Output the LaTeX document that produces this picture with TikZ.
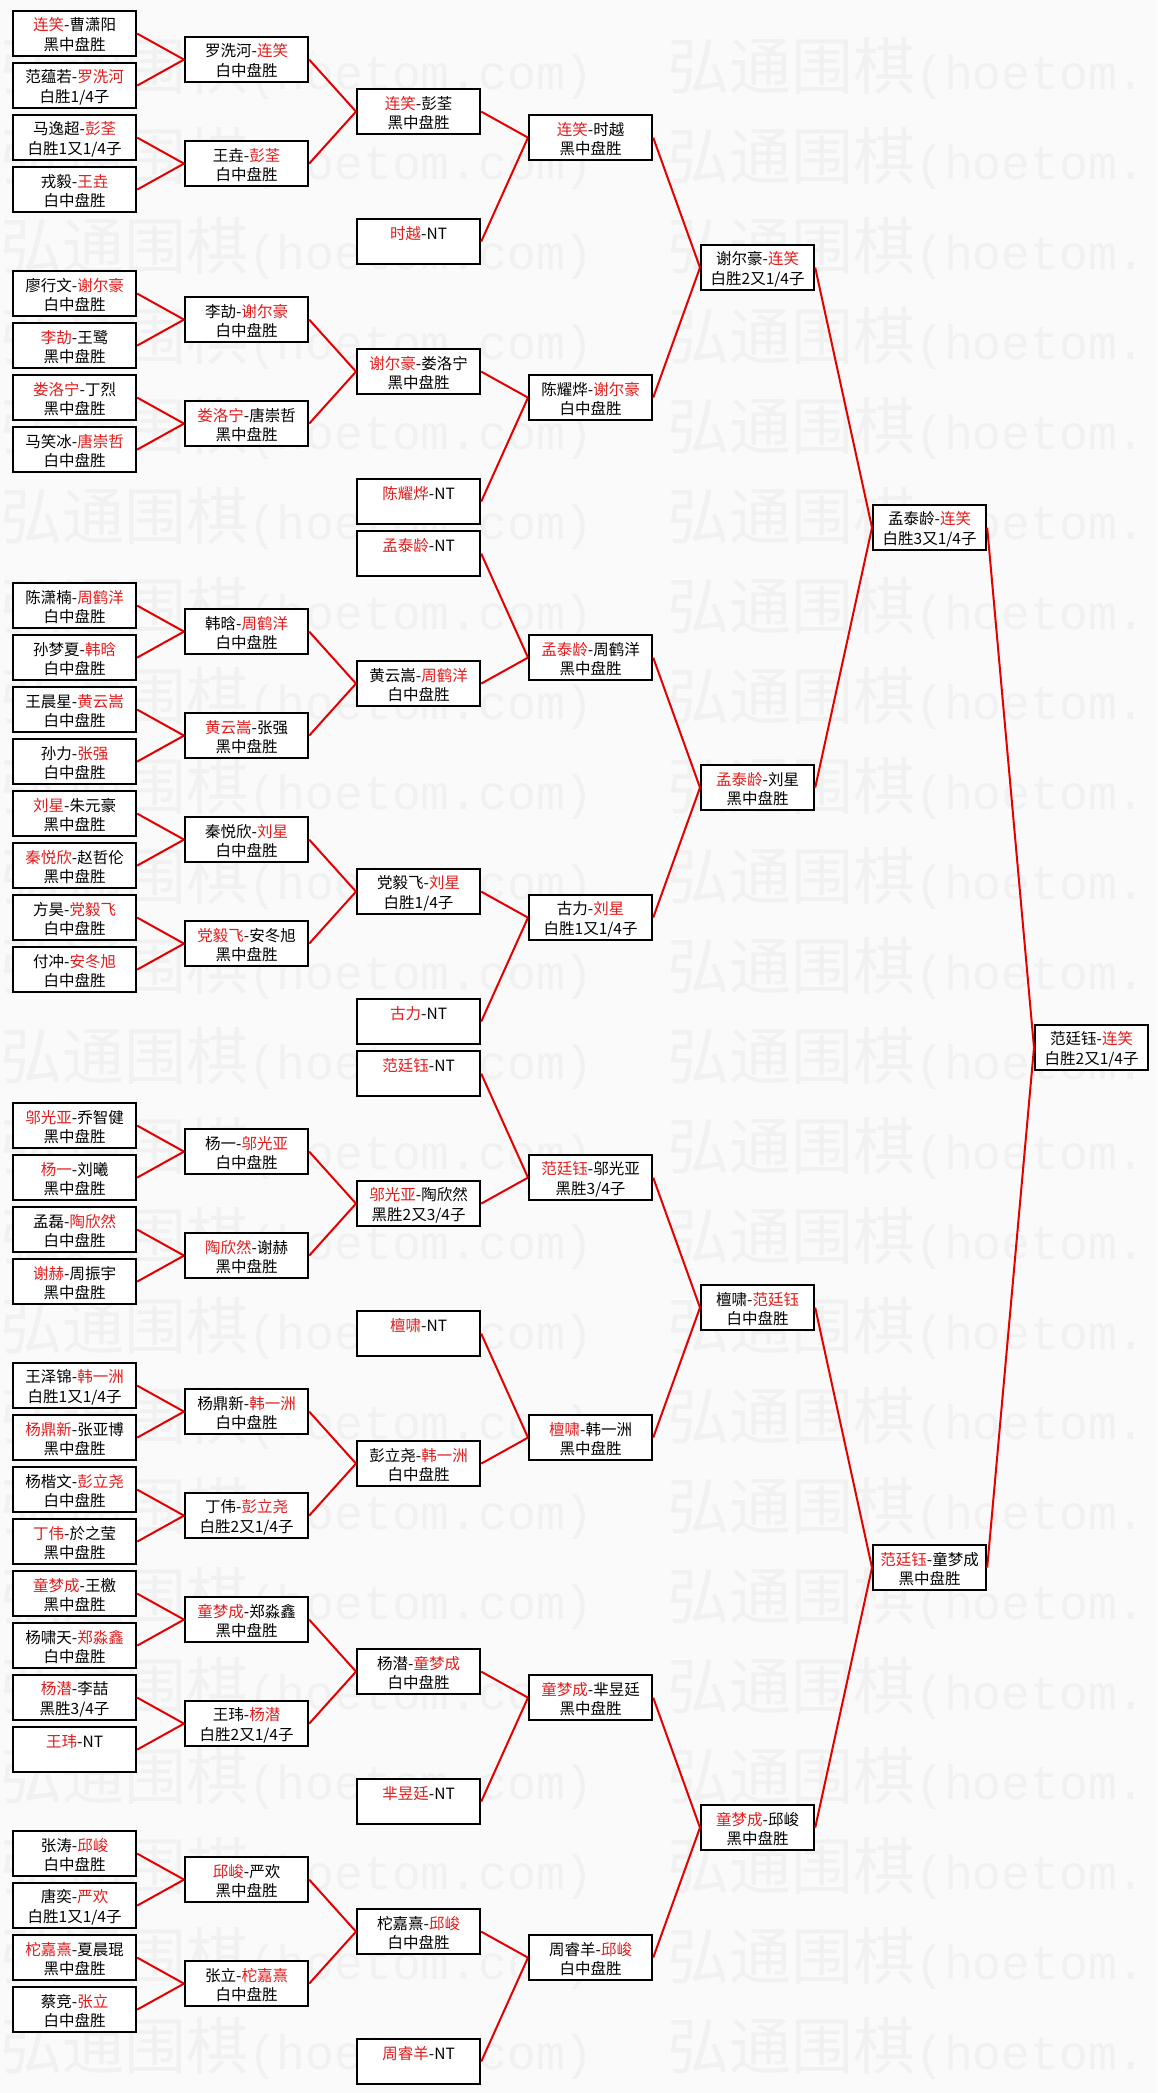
\documentclass[tikz,border=0pt]{standalone}
\usepackage{fontspec}
\setmainfont{Noto Sans CJK SC}
\newfontfamily\wmlatin{Liberation Mono}
\definecolor{winred}{RGB}{226,28,28}
\definecolor{linkred}{RGB}{228,0,0}
\definecolor{pagebg}{RGB}{250,250,250}
\definecolor{wmgray}{RGB}{241,241,241}
\newcommand\wn[1]{\textcolor{winred}{#1}}
\newcommand\rowstrut{\rule[-2.5pt]{0pt}{19.3pt}}
\newcommand\gm[2]{\rowstrut#1\\\rowstrut#2}
\newcommand\wmtext[1]{{\fontsize{62pt}{62pt}\selectfont 弘通围棋}{\wmlatin\fontsize{48pt}{48pt}\selectfont #1}}
\tikzset{
  game/.style={draw=black, line width=2.2pt, fill=white, anchor=north west,
    inner sep=0pt, minimum height=45pt, text width=123pt, align=center,
    font={\fontsize{15.5pt}{19.5pt}\selectfont}},
  narrow/.style={text width=113pt},
  link/.style={draw=linkred, line width=2pt},
  wmk/.style={anchor=west, inner sep=0pt, text=wmgray}
}
\begin{document}
\begin{tikzpicture}[x=1pt,y=-52pt]
  \fill[pagebg] (0pt,10pt) rectangle (1157pt,-2083pt);
  \useasboundingbox (0pt,10pt) rectangle (1157pt,-2083pt);
  \foreach \k in {0,...,22}{
    \node[wmk] (wl\k) at (0pt,{-58pt-90pt*\k}) {\wmtext{(hoetom.com)}};
    \node[wmk] (wr\k) at (667pt,{-58pt-90pt*\k}) {\wmtext{(hoetom.}};
  }

  \node[game] (a0) at (12,0) {\gm{\wn{连笑}-曹潇阳}{黑中盘胜}};
  \node[game] (a1) at (12,1) {\gm{范蕴若-\wn{罗洗河}}{白胜1/4子}};
  \node[game] (a2) at (12,2) {\gm{马逸超-\wn{彭荃}}{白胜1又1/4子}};
  \node[game] (a3) at (12,3) {\gm{戎毅-\wn{王垚}}{白中盘胜}};
  \node[game] (a4) at (12,5) {\gm{廖行文-\wn{谢尔豪}}{白中盘胜}};
  \node[game] (a5) at (12,6) {\gm{\wn{李劼}-王鹭}{黑中盘胜}};
  \node[game] (a6) at (12,7) {\gm{\wn{娄洛宁}-丁烈}{黑中盘胜}};
  \node[game] (a7) at (12,8) {\gm{马笑冰-\wn{唐崇哲}}{白中盘胜}};
  \node[game] (a8) at (12,11) {\gm{陈潇楠-\wn{周鹤洋}}{白中盘胜}};
  \node[game] (a9) at (12,12) {\gm{孙梦夏-\wn{韩晗}}{白中盘胜}};
  \node[game] (a10) at (12,13) {\gm{王晨星-\wn{黄云嵩}}{白中盘胜}};
  \node[game] (a11) at (12,14) {\gm{孙力-\wn{张强}}{白中盘胜}};
  \node[game] (a12) at (12,15) {\gm{\wn{刘星}-朱元豪}{黑中盘胜}};
  \node[game] (a13) at (12,16) {\gm{\wn{秦悦欣}-赵哲伦}{黑中盘胜}};
  \node[game] (a14) at (12,17) {\gm{方昊-\wn{党毅飞}}{白中盘胜}};
  \node[game] (a15) at (12,18) {\gm{付冲-\wn{安冬旭}}{白中盘胜}};
  \node[game] (a16) at (12,21) {\gm{\wn{邬光亚}-乔智健}{黑中盘胜}};
  \node[game] (a17) at (12,22) {\gm{\wn{杨一}-刘曦}{黑中盘胜}};
  \node[game] (a18) at (12,23) {\gm{孟磊-\wn{陶欣然}}{白中盘胜}};
  \node[game] (a19) at (12,24) {\gm{\wn{谢赫}-周振宇}{黑中盘胜}};
  \node[game] (a20) at (12,26) {\gm{王泽锦-\wn{韩一洲}}{白胜1又1/4子}};
  \node[game] (a21) at (12,27) {\gm{\wn{杨鼎新}-张亚博}{黑中盘胜}};
  \node[game] (a22) at (12,28) {\gm{杨楷文-\wn{彭立尧}}{白中盘胜}};
  \node[game] (a23) at (12,29) {\gm{\wn{丁伟}-於之莹}{黑中盘胜}};
  \node[game] (a24) at (12,30) {\gm{\wn{童梦成}-王檄}{黑中盘胜}};
  \node[game] (a25) at (12,31) {\gm{杨啸天-\wn{郑淼鑫}}{白中盘胜}};
  \node[game] (a26) at (12,32) {\gm{\wn{杨潜}-李喆}{黑胜3/4子}};
  \node[game] (a27) at (12,33) {\gm{\wn{王玮}-NT}{}};
  \node[game] (a28) at (12,35) {\gm{张涛-\wn{邱峻}}{白中盘胜}};
  \node[game] (a29) at (12,36) {\gm{唐奕-\wn{严欢}}{白胜1又1/4子}};
  \node[game] (a30) at (12,37) {\gm{\wn{柁嘉熹}-夏晨琨}{黑中盘胜}};
  \node[game] (a31) at (12,38) {\gm{蔡竞-\wn{张立}}{白中盘胜}};

  \node[game] (b0) at (184,0.5) {\gm{罗洗河-\wn{连笑}}{白中盘胜}};
  \node[game] (b1) at (184,2.5) {\gm{王垚-\wn{彭荃}}{白中盘胜}};
  \node[game] (b2) at (184,5.5) {\gm{李劼-\wn{谢尔豪}}{白中盘胜}};
  \node[game] (b3) at (184,7.5) {\gm{\wn{娄洛宁}-唐崇哲}{黑中盘胜}};
  \node[game] (b4) at (184,11.5) {\gm{韩晗-\wn{周鹤洋}}{白中盘胜}};
  \node[game] (b5) at (184,13.5) {\gm{\wn{黄云嵩}-张强}{黑中盘胜}};
  \node[game] (b6) at (184,15.5) {\gm{秦悦欣-\wn{刘星}}{白中盘胜}};
  \node[game] (b7) at (184,17.5) {\gm{\wn{党毅飞}-安冬旭}{黑中盘胜}};
  \node[game] (b8) at (184,21.5) {\gm{杨一-\wn{邬光亚}}{白中盘胜}};
  \node[game] (b9) at (184,23.5) {\gm{\wn{陶欣然}-谢赫}{黑中盘胜}};
  \node[game] (b10) at (184,26.5) {\gm{杨鼎新-\wn{韩一洲}}{白中盘胜}};
  \node[game] (b11) at (184,28.5) {\gm{丁伟-\wn{彭立尧}}{白胜2又1/4子}};
  \node[game] (b12) at (184,30.5) {\gm{\wn{童梦成}-郑淼鑫}{黑中盘胜}};
  \node[game] (b13) at (184,32.5) {\gm{王玮-\wn{杨潜}}{白胜2又1/4子}};
  \node[game] (b14) at (184,35.5) {\gm{\wn{邱峻}-严欢}{黑中盘胜}};
  \node[game] (b15) at (184,37.5) {\gm{张立-\wn{柁嘉熹}}{白中盘胜}};

  \node[game] (c0) at (356,1.5) {\gm{\wn{连笑}-彭荃}{黑中盘胜}};
  \node[game] (c1) at (356,4) {\gm{\wn{时越}-NT}{}};
  \node[game] (c2) at (356,6.5) {\gm{\wn{谢尔豪}-娄洛宁}{黑中盘胜}};
  \node[game] (c3) at (356,9) {\gm{\wn{陈耀烨}-NT}{}};
  \node[game] (c4) at (356,10) {\gm{\wn{孟泰龄}-NT}{}};
  \node[game] (c5) at (356,12.5) {\gm{黄云嵩-\wn{周鹤洋}}{白中盘胜}};
  \node[game] (c6) at (356,16.5) {\gm{党毅飞-\wn{刘星}}{白胜1/4子}};
  \node[game] (c7) at (356,19) {\gm{\wn{古力}-NT}{}};
  \node[game] (c8) at (356,20) {\gm{\wn{范廷钰}-NT}{}};
  \node[game] (c9) at (356,22.5) {\gm{\wn{邬光亚}-陶欣然}{黑胜2又3/4子}};
  \node[game] (c10) at (356,25) {\gm{\wn{檀啸}-NT}{}};
  \node[game] (c11) at (356,27.5) {\gm{彭立尧-\wn{韩一洲}}{白中盘胜}};
  \node[game] (c12) at (356,31.5) {\gm{杨潜-\wn{童梦成}}{白中盘胜}};
  \node[game] (c13) at (356,34) {\gm{\wn{芈昱廷}-NT}{}};
  \node[game] (c14) at (356,36.5) {\gm{柁嘉熹-\wn{邱峻}}{白中盘胜}};
  \node[game] (c15) at (356,39) {\gm{\wn{周睿羊}-NT}{}};

  \node[game] (d0) at (528,2) {\gm{\wn{连笑}-时越}{黑中盘胜}};
  \node[game] (d1) at (528,7) {\gm{陈耀烨-\wn{谢尔豪}}{白中盘胜}};
  \node[game] (d2) at (528,12) {\gm{\wn{孟泰龄}-周鹤洋}{黑中盘胜}};
  \node[game] (d3) at (528,17) {\gm{古力-\wn{刘星}}{白胜1又1/4子}};
  \node[game] (d4) at (528,22) {\gm{\wn{范廷钰}-邬光亚}{黑胜3/4子}};
  \node[game] (d5) at (528,27) {\gm{\wn{檀啸}-韩一洲}{黑中盘胜}};
  \node[game] (d6) at (528,32) {\gm{\wn{童梦成}-芈昱廷}{黑中盘胜}};
  \node[game] (d7) at (528,37) {\gm{周睿羊-\wn{邱峻}}{白中盘胜}};

  \node[game,narrow] (e0) at (700,4.5) {\gm{谢尔豪-\wn{连笑}}{白胜2又1/4子}};
  \node[game,narrow] (e1) at (700,14.5) {\gm{\wn{孟泰龄}-刘星}{黑中盘胜}};
  \node[game,narrow] (e2) at (700,24.5) {\gm{檀啸-\wn{范廷钰}}{白中盘胜}};
  \node[game,narrow] (e3) at (700,34.5) {\gm{\wn{童梦成}-邱峻}{黑中盘胜}};

  \node[game,narrow] (f0) at (872,9.5) {\gm{孟泰龄-\wn{连笑}}{白胜3又1/4子}};
  \node[game,narrow] (f1) at (872,29.5) {\gm{\wn{范廷钰}-童梦成}{黑中盘胜}};

  \node[game,narrow] (g0) at (1034,19.5) {\gm{范廷钰-\wn{连笑}}{白胜2又1/4子}};

  \foreach \i in {0,...,15}{
    \pgfmathtruncatemacro\j{2*\i}
    \pgfmathtruncatemacro\k{2*\i+1}
    \draw[link] (a\j.east) -- (b\i.west);
    \draw[link] (a\k.east) -- (b\i.west);
  }
  \foreach \u/\v in {b0/c0,b1/c0,b2/c2,b3/c2,b4/c5,b5/c5,b6/c6,b7/c6,
      b8/c9,b9/c9,b10/c11,b11/c11,b12/c12,b13/c12,b14/c14,b15/c14}
    \draw[link] (\u.east) -- (\v.west);
  \foreach \i in {0,...,7}{
    \pgfmathtruncatemacro\j{2*\i}
    \pgfmathtruncatemacro\k{2*\i+1}
    \draw[link] (c\j.east) -- (d\i.west);
    \draw[link] (c\k.east) -- (d\i.west);
  }
  \foreach \i in {0,...,3}{
    \pgfmathtruncatemacro\j{2*\i}
    \pgfmathtruncatemacro\k{2*\i+1}
    \draw[link] (d\j.east) -- (e\i.west);
    \draw[link] (d\k.east) -- (e\i.west);
  }
  \foreach \i in {0,1}{
    \pgfmathtruncatemacro\j{2*\i}
    \pgfmathtruncatemacro\k{2*\i+1}
    \draw[link] (e\j.east) -- (f\i.west);
    \draw[link] (e\k.east) -- (f\i.west);
  }
  \draw[link] (f0.east) -- (g0.west);
  \draw[link] (f1.east) -- (g0.west);
\end{tikzpicture}
\end{document}
